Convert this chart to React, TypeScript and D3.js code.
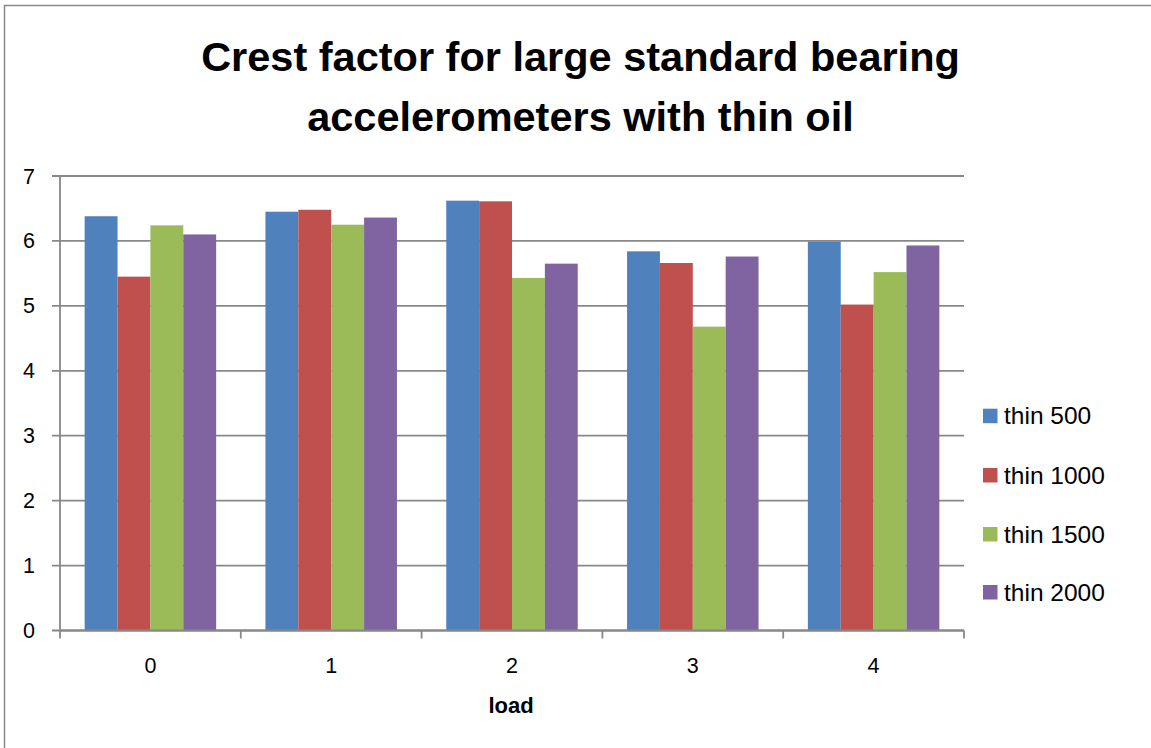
import React from "react";
import * as d3 from "d3";

const categories = ["0", "1", "2", "3", "4"];
const seriesNames = ["thin 500", "thin 1000", "thin 1500", "thin 2000"];
const thin500 = [6.38, 6.45, 6.62, 5.84, 5.99];
const thin1000 = [5.45, 6.48, 6.61, 5.66, 5.02];
const thin1500 = [6.24, 6.25, 5.43, 4.68, 5.52];
const thin2000 = [6.1, 6.36, 5.65, 5.76, 5.93];
const yTicks = [0, 1, 2, 3, 4, 5, 6, 7];
const colors = ["#4F81BD", "#C0504D", "#9BBB59", "#8064A2"];
const titleLines = ["Crest factor for large standard bearing", "accelerometers with thin oil"];
const xAxisTitle = "load";

export default function App() {
  const W = 1151;
  const H = 748;
  const series = [thin500, thin1000, thin1500, thin2000];
  const left = 60;
  const right = 964;
  const x0 = d3.scaleBand<string>().domain(categories).range([left, right]).padding(0);
  const x1 = d3
    .scaleBand<string>()
    .domain(seriesNames)
    .range([0, x0.bandwidth()])
    .paddingInner(0)
    .paddingOuter(0.75);
  const y = d3.scaleLinear().domain([0, 7]).range([630.5, 176]);
  const font = "'Liberation Sans', Arial, sans-serif";
  const gridColor = "#888888";
  const legendY = [415.7, 475, 534, 592];
  const catEdges = categories.map((c) => x0(c) as number).concat([right]);

  return (
    <svg
      width={W}
      height={H}
      style={{ position: "absolute", left: 0, top: 0, background: "#fff" }}
      fontFamily={font}
    >
      <rect x={0} y={0} width={W} height={H} fill="#fff" />
      <rect x={4.5} y={5.5} width={W + 20} height={H + 20} fill="none" stroke="#888" strokeWidth={1.5} />
      {/* title */}
      {titleLines.map((t, i) => (
        <text
          key={i}
          x={580.5}
          y={71 + i * 60}
          textAnchor="middle"
          fontWeight="bold"
          fontSize={41.5}
          fill="#000"
        >
          {t}
        </text>
      ))}
      {/* gridlines */}
      {yTicks.map((t) => (
        <line
          key={"g" + t}
          x1={left - 8}
          x2={right}
          y1={y(t)}
          y2={y(t)}
          stroke={gridColor}
          strokeWidth={1.8}
        />
      ))}
      {/* bars */}
      {categories.map((c, ci) =>
        series.map((s, si) => {
          const bx = (x0(c) as number) + (x1(seriesNames[si]) as number);
          return (
            <rect
              key={c + "-" + si}
              x={bx}
              y={y(s[ci])}
              width={x1.bandwidth()}
              height={y(0) - y(s[ci])}
              fill={colors[si]}
            />
          );
        })
      )}
      {/* y axis */}
      <line x1={left} x2={left} y1={y(7)} y2={y(0)} stroke={gridColor} strokeWidth={1.8} />
      {/* x axis */}
      <line x1={left} x2={right} y1={y(0)} y2={y(0)} stroke={gridColor} strokeWidth={1.8} />
      {catEdges.map((e, i) => (
        <line key={"xt" + i} x1={e} x2={e} y1={y(0)} y2={y(0) + 8} stroke={gridColor} strokeWidth={1.8} />
      ))}
      {/* y tick labels */}
      {yTicks.map((t) => (
        <text key={"yl" + t} x={35} y={y(t) + 7.5} textAnchor="end" fontSize={21.5} fill="#000">
          {t}
        </text>
      ))}
      {/* x tick labels */}
      {categories.map((c) => (
        <text
          key={"xl" + c}
          x={(x0(c) as number) + x0.bandwidth() / 2}
          y={673}
          textAnchor="middle"
          fontSize={21.5}
          fill="#000"
        >
          {c}
        </text>
      ))}
      <text x={511} y={713} textAnchor="middle" fontWeight="bold" fontSize={22} fill="#000">
        {xAxisTitle}
      </text>
      {/* legend */}
      {seriesNames.map((n, i) => (
        <g key={"lg" + i}>
          <rect x={983} y={legendY[i] - 7} width={14.5} height={14.5} fill={colors[i]} />
          <text x={1004} y={legendY[i] + 8.5} fontSize={24.5} fill="#000">
            {n}
          </text>
        </g>
      ))}
    </svg>
  );
}
